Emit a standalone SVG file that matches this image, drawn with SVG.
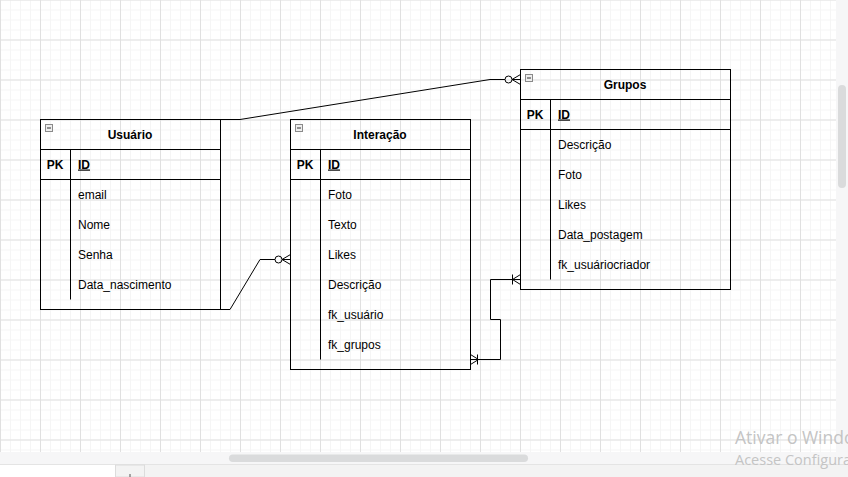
<svg xmlns="http://www.w3.org/2000/svg" width="848" height="477" viewBox="0 0 848 477">
<defs>
<pattern id="minor" width="10" height="10" patternUnits="userSpaceOnUse" x="0" y="-0.5">
<path d="M0.5,0 V10 M0,0.5 H10" stroke="#f5f5f5" stroke-width="1" fill="none"/>
</pattern>
<pattern id="major" width="40" height="40" patternUnits="userSpaceOnUse" x="0" y="-0.5">
<path d="M0.5,0 V40 M0,0.5 H40" stroke="#e0e0e0" stroke-width="1" fill="none"/>
</pattern>
<style>
.box{fill:none;stroke:#000;stroke-width:1}
.ln{fill:none;stroke:#000;stroke-width:1}
.title{font-family:"Liberation Sans",Arial,sans-serif;font-size:12px;font-weight:bold;fill:#000;text-anchor:middle}
.pk{font-family:"Liberation Sans",Arial,sans-serif;font-size:12px;font-weight:bold;fill:#000;text-anchor:middle}
.id{font-family:"Liberation Sans",Arial,sans-serif;font-size:12px;font-weight:bold;fill:#000;text-decoration:underline}
.f{font-family:"Liberation Sans",Arial,sans-serif;font-size:12px;fill:#000}
.icon{fill:#eeeeee;stroke:#8a8a8a;stroke-width:1}
.wm{font-family:"Open Sans","Noto Sans",sans-serif;fill:#c4c4c4}
</style>
</defs>
<rect x="0" y="0" width="848" height="477" fill="#ffffff"/>
<rect x="0" y="0" width="836" height="452" fill="url(#minor)"/>
<rect x="0" y="0" width="836" height="452" fill="url(#major)"/>
<!-- scrollbars -->
<rect x="836" y="0" width="12" height="464" fill="#f6f6f7"/>
<rect x="838" y="85" width="8" height="103" rx="4" fill="#dadbdc"/>
<rect x="0" y="452" width="836" height="12" fill="#f6f6f7"/>
<rect x="229" y="454.5" width="299" height="7.5" rx="3.75" fill="#dadbdc"/>
<line x1="0" y1="464.5" x2="848" y2="464.5" stroke="#e4e4e4"/>
<rect x="0" y="465" width="115" height="12" fill="#ffffff"/>
<rect x="115.5" y="465" width="29" height="12" fill="#f3f3f3" stroke="#dcdcdc"/>
<rect x="145" y="465" width="703" height="12" fill="#f3f3f3"/>
<line x1="130" y1="474" x2="130" y2="477" stroke="#555"/>

<g id="connectors">
<path class="ln" d="M220.5,119.5 L240,119.5 L490,79.5 L505,79.5"/>
<circle class="ln" cx="508.5" cy="79.5" r="3.5" fill="#fff"/>
<path class="ln" d="M512,79.5 L520.5,79.5 M512,79.5 L520.5,74.5 M512,79.5 L520.5,84.5"/>

<path class="ln" d="M220.5,309.5 L230,309.5 L260,259.5 L275,259.5"/>
<circle class="ln" cx="278.5" cy="259.5" r="3.5" fill="#fff"/>
<path class="ln" d="M282,259.5 L290.5,259.5 M282,259.5 L290.5,254.5 M282,259.5 L290.5,264.5"/>

<path class="ln" d="M470.5,359.5 L500.5,359.5 L500.5,319.5 L490.5,319.5 L490.5,279.5 L520.5,279.5"/>
<path class="ln" d="M512.5,279.5 L520.5,274.5 M512.5,279.5 L520.5,284.5 M512.5,274.5 L512.5,284.5"/>
<path class="ln" d="M478.5,359.5 L470.5,354.5 M478.5,359.5 L470.5,364.5 M477.5,354.5 L477.5,364.5"/>
</g>

<g id="usuario">
<rect class="box" x="40.5" y="119.5" width="180" height="190"/>
<rect class="icon" x="45.5" y="124.5" width="7" height="7"/>
<line x1="47" y1="128" x2="51" y2="128" stroke="#333"/>
<text class="title" x="130" y="138.5">Usuário</text>
<line class="ln" x1="40.5" y1="149.5" x2="220.5" y2="149.5"/>
<line class="ln" x1="40.5" y1="179.5" x2="220.5" y2="179.5"/>
<line class="ln" x1="70.5" y1="149.5" x2="70.5" y2="299.5"/>
<text class="pk" x="55" y="168.5">PK</text>
<text class="id" x="78" y="168.5">ID</text>
<text class="f" x="78" y="198.5">email</text>
<text class="f" x="78" y="228.5">Nome</text>
<text class="f" x="78" y="258.5">Senha</text>
<text class="f" x="78" y="288.5">Data_nascimento</text>
</g>

<g id="interacao">
<rect class="box" x="290.5" y="119.5" width="180" height="250"/>
<rect class="icon" x="295.5" y="124.5" width="7" height="7"/>
<line x1="297" y1="128" x2="301" y2="128" stroke="#333"/>
<text class="title" x="380" y="138.5">Interação</text>
<line class="ln" x1="290.5" y1="149.5" x2="470.5" y2="149.5"/>
<line class="ln" x1="290.5" y1="179.5" x2="470.5" y2="179.5"/>
<line class="ln" x1="320.5" y1="149.5" x2="320.5" y2="359.5"/>
<text class="pk" x="305" y="168.5">PK</text>
<text class="id" x="328" y="168.5">ID</text>
<text class="f" x="328" y="198.5">Foto</text>
<text class="f" x="328" y="228.5">Texto</text>
<text class="f" x="328" y="258.5">Likes</text>
<text class="f" x="328" y="288.5">Descrição</text>
<text class="f" x="328" y="318.5">fk_usuário</text>
<text class="f" x="328" y="348.5">fk_grupos</text>
</g>

<g id="grupos">
<rect class="box" x="520.5" y="69.5" width="210" height="220"/>
<rect class="icon" x="525.5" y="74.5" width="7" height="7"/>
<line x1="527" y1="78" x2="531" y2="78" stroke="#333"/>
<text class="title" x="625" y="88.5">Grupos</text>
<line class="ln" x1="520.5" y1="99.5" x2="730.5" y2="99.5"/>
<line class="ln" x1="520.5" y1="129.5" x2="730.5" y2="129.5"/>
<line class="ln" x1="550.5" y1="99.5" x2="550.5" y2="279.5"/>
<text class="pk" x="535" y="118.5">PK</text>
<text class="id" x="558" y="118.5">ID</text>
<text class="f" x="558" y="148.5">Descrição</text>
<text class="f" x="558" y="178.5">Foto</text>
<text class="f" x="558" y="208.5">Likes</text>
<text class="f" x="558" y="238.5">Data_postagem</text>
<text class="f" x="558" y="268.5">fk_usuáriocriador</text>
</g>

<text class="wm" x="735" y="443.5" font-size="17.5">Ativar o Windows</text>
<text class="wm" x="735" y="465" font-size="14.5">Acesse Configurações para ativar o Windows.</text>
</svg>
